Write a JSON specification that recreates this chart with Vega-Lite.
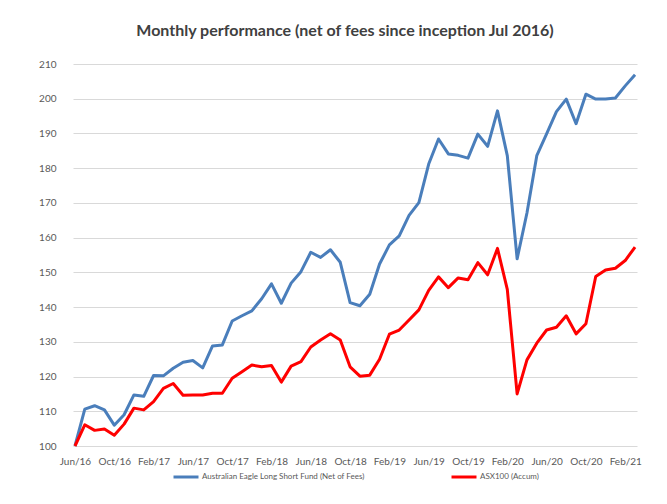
{
  "$schema": "https://vega.github.io/schema/vega-lite/v6.json",
  "width": 564,
  "height": 382,
  "autosize": {"type": "none"},
  "padding": {"left": 73, "top": 64, "right": 30, "bottom": 58},
  "background": "white",
  "title": {
    "text": "Monthly performance (net of fees since inception Jul 2016)",
    "font": "Lato",
    "fontSize": 16,
    "fontWeight": "bold",
    "color": "#404040",
    "anchor": "middle",
    "offset": 20,
    "dx": -10
  },
  "data": {
    "values": [
      {"month": "Jun/16", "fund": 100, "asx": 100},
      {"month": "Jul/16", "fund": 110.6, "asx": 106.1},
      {"month": "Aug/16", "fund": 111.6, "asx": 104.5},
      {"month": "Sep/16", "fund": 110.4, "asx": 104.9},
      {"month": "Oct/16", "fund": 106.0, "asx": 103.1},
      {"month": "Nov/16", "fund": 109.0, "asx": 106.3},
      {"month": "Dec/16", "fund": 114.7, "asx": 110.9},
      {"month": "Jan/17", "fund": 114.3, "asx": 110.4},
      {"month": "Feb/17", "fund": 120.3, "asx": 112.8},
      {"month": "Mar/17", "fund": 120.2, "asx": 116.6},
      {"month": "Apr/17", "fund": 122.4, "asx": 118.0},
      {"month": "May/17", "fund": 124.1, "asx": 114.6},
      {"month": "Jun/17", "fund": 124.6, "asx": 114.7},
      {"month": "Jul/17", "fund": 122.5, "asx": 114.7},
      {"month": "Aug/17", "fund": 128.8, "asx": 115.2},
      {"month": "Sep/17", "fund": 129.1, "asx": 115.2},
      {"month": "Oct/17", "fund": 136.0, "asx": 119.5},
      {"month": "Nov/17", "fund": 137.5, "asx": 121.4},
      {"month": "Dec/17", "fund": 138.9, "asx": 123.3},
      {"month": "Jan/18", "fund": 142.4, "asx": 122.8},
      {"month": "Feb/18", "fund": 146.7, "asx": 123.2},
      {"month": "Mar/18", "fund": 141.1, "asx": 118.4},
      {"month": "Apr/18", "fund": 146.9, "asx": 123.0},
      {"month": "May/18", "fund": 150.2, "asx": 124.3},
      {"month": "Jun/18", "fund": 155.8, "asx": 128.5},
      {"month": "Jul/18", "fund": 154.3, "asx": 130.5},
      {"month": "Aug/18", "fund": 156.5, "asx": 132.3},
      {"month": "Sep/18", "fund": 152.9, "asx": 130.5},
      {"month": "Oct/18", "fund": 141.3, "asx": 122.8},
      {"month": "Nov/18", "fund": 140.4, "asx": 120.1},
      {"month": "Dec/18", "fund": 143.7, "asx": 120.4},
      {"month": "Jan/19", "fund": 152.4, "asx": 125.0},
      {"month": "Feb/19", "fund": 157.9, "asx": 132.2},
      {"month": "Mar/19", "fund": 160.5, "asx": 133.4},
      {"month": "Apr/19", "fund": 166.4, "asx": 136.3},
      {"month": "May/19", "fund": 170.1, "asx": 139.2},
      {"month": "Jun/19", "fund": 181.2, "asx": 144.8},
      {"month": "Jul/19", "fund": 188.4, "asx": 148.7},
      {"month": "Aug/19", "fund": 184.1, "asx": 145.6},
      {"month": "Sep/19", "fund": 183.7, "asx": 148.4},
      {"month": "Oct/19", "fund": 182.9, "asx": 147.9},
      {"month": "Nov/19", "fund": 189.8, "asx": 152.8},
      {"month": "Dec/19", "fund": 186.3, "asx": 149.3},
      {"month": "Jan/20", "fund": 196.5, "asx": 156.9},
      {"month": "Feb/20", "fund": 183.6, "asx": 145.1},
      {"month": "Mar/20", "fund": 153.9, "asx": 115.0},
      {"month": "Apr/20", "fund": 167.1, "asx": 124.8},
      {"month": "May/20", "fund": 183.6, "asx": 129.6},
      {"month": "Jun/20", "fund": 189.9, "asx": 133.4},
      {"month": "Jul/20", "fund": 196.3, "asx": 134.2},
      {"month": "Aug/20", "fund": 199.9, "asx": 137.5},
      {"month": "Sep/20", "fund": 192.8, "asx": 132.3},
      {"month": "Oct/20", "fund": 201.3, "asx": 135.2},
      {"month": "Nov/20", "fund": 199.9, "asx": 148.8},
      {"month": "Dec/20", "fund": 199.9, "asx": 150.7},
      {"month": "Jan/21", "fund": 200.2, "asx": 151.2},
      {"month": "Feb/21", "fund": 203.7, "asx": 153.4},
      {"month": "Mar/21", "fund": 206.9, "asx": 157.3}
    ]
  },
  "transform": [
    {"fold": ["fund", "asx"], "as": ["series", "value"]}
  ],
  "mark": {"type": "line", "strokeWidth": 3, "strokeJoin": "round"},
  "encoding": {
    "x": {
      "field": "month",
      "type": "ordinal",
      "sort": null,
      "scale": {"type": "point", "padding": 0.2},
      "axis": {
        "values": ["Jun/16", "Oct/16", "Feb/17", "Jun/17", "Oct/17", "Feb/18", "Jun/18", "Oct/18", "Feb/19", "Jun/19", "Oct/19", "Feb/20", "Jun/20", "Oct/20", "Feb/21"],
        "labelAngle": 0,
        "title": null,
        "domain": false,
        "ticks": false,
        "grid": false,
        "labelPadding": 10,
        "labelFont": "Lato",
        "labelFontSize": 10,
        "labelColor": "#595959"
      }
    },
    "y": {
      "field": "value",
      "type": "quantitative",
      "scale": {"domain": [100, 210], "nice": false, "zero": false},
      "axis": {
        "values": [100, 110, 120, 130, 140, 150, 160, 170, 180, 190, 200, 210],
        "title": null,
        "domain": false,
        "ticks": false,
        "labelPadding": 17,
        "labelFont": "Lato",
        "labelFontSize": 10,
        "labelColor": "#595959",
        "gridColor": "#d9d9d9",
        "gridWidth": 1
      }
    },
    "color": {
      "field": "series",
      "type": "nominal",
      "scale": {"domain": ["fund", "asx"], "range": ["#4a7ebb", "#ff0000"]},
      "legend": {
        "orient": "none",
        "legendX": 99,
        "legendY": 399,
        "direction": "horizontal",
        "title": null,
        "symbolType": "stroke",
        "symbolSize": 625,
        "symbolStrokeWidth": 3,
        "labelFont": "Lato",
        "labelFontSize": 8,
        "labelColor": "#595959",
        "labelOffset": 2,
        "labelLimit": 300,
        "columnPadding": 80,
        "labelExpr": "datum.value == 'fund' ? 'Australian Eagle Long Short Fund (Net of Fees)' : 'ASX100 (Accum)'"
      }
    },
    "order": {"value": null}
  },
  "config": {"view": {"stroke": null}}
}
